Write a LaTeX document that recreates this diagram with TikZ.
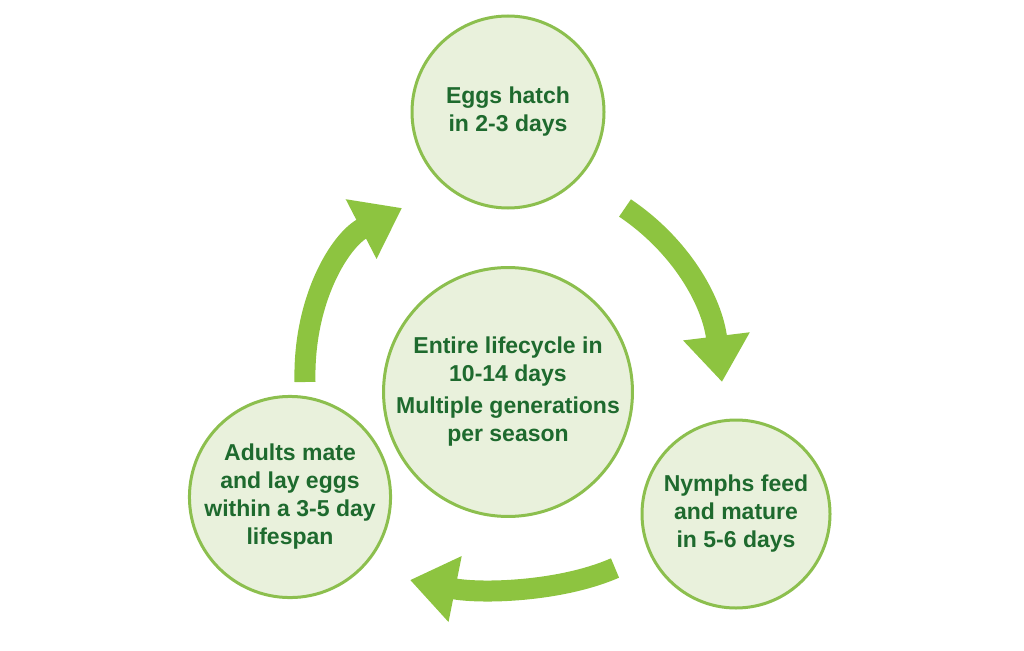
\documentclass[tikz,border=0pt]{standalone}
\usepackage{fontspec}
\setmainfont{Liberation Sans}
\usetikzlibrary{arrows.meta}
\definecolor{stagefill}{HTML}{E9F1DC}
\definecolor{stageline}{HTML}{8CBF4E}
\definecolor{stagetext}{HTML}{1E6A2E}
\definecolor{arrowgreen}{HTML}{8DC440}
\begin{document}
\begin{tikzpicture}[x=1pt,y=-1pt,
    stage node/.style={circle,draw=stageline,line width=3pt,fill=stagefill,
      text=stagetext,align=center,inner sep=0pt,
      font=\fontsize{23}{28}\selectfont\bfseries},
    cycle arrow/.style={draw=arrowgreen,line width=21pt,
      -{Triangle[length=46pt,width=64pt]}}]
  \useasboundingbox (0,0) rectangle (1024,650);

  \node[stage node,minimum size=192pt] (eggs) at (508,112) {Eggs hatch\\in 2-3 days};
  \node[stage node,minimum size=238pt] (centre) at (508,392)
    {Entire lifecycle in\\10-14 days\\[4pt]Multiple generations\\per season};
  \node[stage node,minimum size=188pt] (nymphs) at (736,514) {Nymphs feed\\and mature\\in 5-6 days};
  \node[stage node,minimum size=184pt] (adults) at (290,497) {Adults mate\\and lay eggs\\within a 3-5 day\\lifespan};

  \coordinate (a1) at (625,208);
  \coordinate (b1) at (722,382);
  \coordinate (a2) at (615,568);
  \coordinate (b2) at (410,580);
  \coordinate (a3) at (305,382);
  \coordinate (b3) at (402,208);

  \draw[cycle arrow] (a1) .. controls (680,245) and (712,300) .. (b1);
  \draw[cycle arrow] (a2) .. controls (560,592) and (480,594) .. (b2);
  \draw[cycle arrow] (a3) .. controls (303,300) and (340,240) .. (b3);
\end{tikzpicture}
\end{document}
